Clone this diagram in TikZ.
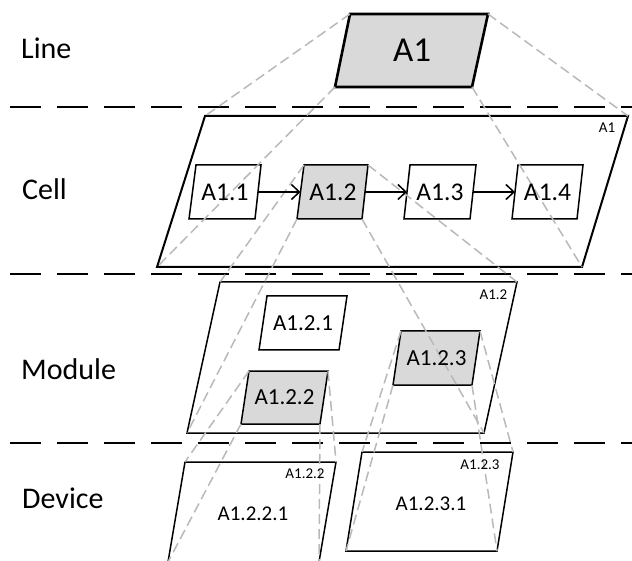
\documentclass[tikz,border=0pt]{standalone}
\usepackage{fontspec}
\setmainfont{Carlito}
\usetikzlibrary{arrows.meta,calc}
\definecolor{projgray}{RGB}{185,185,185}
\definecolor{boxgray}{RGB}{217,217,217}
\newcommand\pgram[7]{%
  \coordinate (#1-tl) at (#2,#4);
  \coordinate (#1-tr) at (#3,#4);
  \coordinate (#1-bl) at (#5,#7);
  \coordinate (#1-br) at (#6,#7);}
\newcommand\pgpath[1]{(#1-tl) -- (#1-tr) -- (#1-br) -- (#1-bl) -- cycle}
\begin{document}
\begin{tikzpicture}[x=1pt,y=-1pt,
  sepline/.style={line width=2pt, dash pattern=on 31pt off 16pt},
  proj/.style={draw=projgray, line width=1.5pt, dash pattern=on 10pt off 5pt},
  box/.style={draw=black, line width=1.5pt, line join=miter, fill=white},
  selbox/.style={box, fill=boxgray},
  lvl/.style={anchor=base west, font=\fontsize{30}{36}\selectfont, inner sep=0pt},
  lblA/.style={font=\fontsize{35}{42}\selectfont, inner sep=0pt},
  lblB/.style={font=\fontsize{25.5}{30}\selectfont, inner sep=0pt},
  lblC/.style={font=\fontsize{23}{28}\selectfont, inner sep=0pt},
  lblD/.style={font=\fontsize{21}{25}\selectfont, inner sep=0pt},
  tag/.style={font=\fontsize{15}{18}\selectfont, inner sep=0pt},
  flow/.style={line width=1.5pt, -{Straight Barb[length=8pt,width=15pt]}}
]
\useasboundingbox (0,0) rectangle (632,561);
\clip (0,0) rectangle (632,561);

% separators
\coordinate (s1a) at (10,107);  \coordinate (s1b) at (660,107);
\coordinate (s2a) at (10,274);  \coordinate (s2b) at (660,274);
\coordinate (s3a) at (10,443);  \coordinate (s3b) at (660,443);
\draw[sepline] (s1a) -- (s1b);
\draw[sepline] (s2a) -- (s2b);
\draw[sepline] (s3a) -- (s3b);

% corner coordinates
\pgram{a1}{350}{488}{14}{335}{472}{87}
\pgram{cf}{205}{628}{116}{157}{582}{267}
\pgram{c1}{196}{261}{165}{189}{255}{219}
\pgram{c2}{304}{368}{165}{297}{362}{219}
\pgram{c3}{410}{476}{165}{404}{470}{219}
\pgram{c4}{518}{583}{165}{512}{577}{219}
\pgram{mf}{220}{517}{282}{187}{484}{433}
\pgram{m1}{267}{347}{296}{259}{339}{350}
\pgram{m2}{249}{328}{371}{241}{320}{424}
\pgram{m3}{401}{480}{331}{393}{472}{385}
\pgram{d2}{185}{336}{462}{168}{319}{562}
\pgram{d3}{362}{513}{452}{346}{497}{551}

% shapes
\draw[selbox, line width=2.6pt] \pgpath{a1};
\draw[box, line width=2pt] \pgpath{cf};
\draw[box] \pgpath{c1};
\draw[selbox] \pgpath{c2};
\draw[box] \pgpath{c3};
\draw[box] \pgpath{c4};
\draw[box] \pgpath{mf};
\draw[box] \pgpath{m1};
\draw[selbox] \pgpath{m2};
\draw[selbox] \pgpath{m3};
\draw[box] \pgpath{d2};
\draw[box] \pgpath{d3};

% projection lines
\foreach \c in {tl,tr,bl,br} {
  \draw[proj] (a1-\c) -- (cf-\c);
  \draw[proj] (c2-\c) -- (mf-\c);
  \draw[proj] (m2-\c) -- (d2-\c);
  \draw[proj] (m3-\c) -- (d3-\c);
}

% flow arrows
\foreach \n in {c1,c2,c3,c4} {
  \coordinate (\n-l) at ($(\n-tl)!0.5!(\n-bl)$);
  \coordinate (\n-r) at ($(\n-tr)!0.5!(\n-br)$);
}
\draw[flow] (c1-r) -- (c2-l);
\draw[flow] (c2-r) -- (c3-l);
\draw[flow] (c3-r) -- (c4-l);

% level labels
\node[lvl] (tline) at (21,59) {Line};
\node[lvl] (tcell) at (22,200) {Cell};
\node[lvl] (tmod) at (21,380) {Module};
\node[lvl] (tdev) at (22,508) {Device};

% box labels
\node[lblA] (ta1) at (412,50) {A1};
\node[lblB] (tc1) at (225,192) {A1.1};
\node[lblB] (tc2) at (333,192) {A1.2};
\node[lblB] (tc3) at (440,192) {A1.3};
\node[lblB] (tc4) at (547.5,192) {A1.4};
\node[lblC] (tm1) at (303,323) {A1.2.1};
\node[lblC] (tm2) at (284.5,397.5) {A1.2.2};
\node[lblC] (tm3) at (436.5,358) {A1.2.3};
\node[lblD] (td2) at (253,514) {A1.2.2.1};
\node[lblD] (td3) at (431,503.5) {A1.2.3.1};

% corner tags
\node[tag] (gcf) at (607,128) {A1};
\node[tag] (gmf) at (493.5,295) {A1.2};
\node[tag] (gd2) at (305,474) {A1.2.2};
\node[tag] (gd3) at (480,465) {A1.2.3};
\end{tikzpicture}
\end{document}
